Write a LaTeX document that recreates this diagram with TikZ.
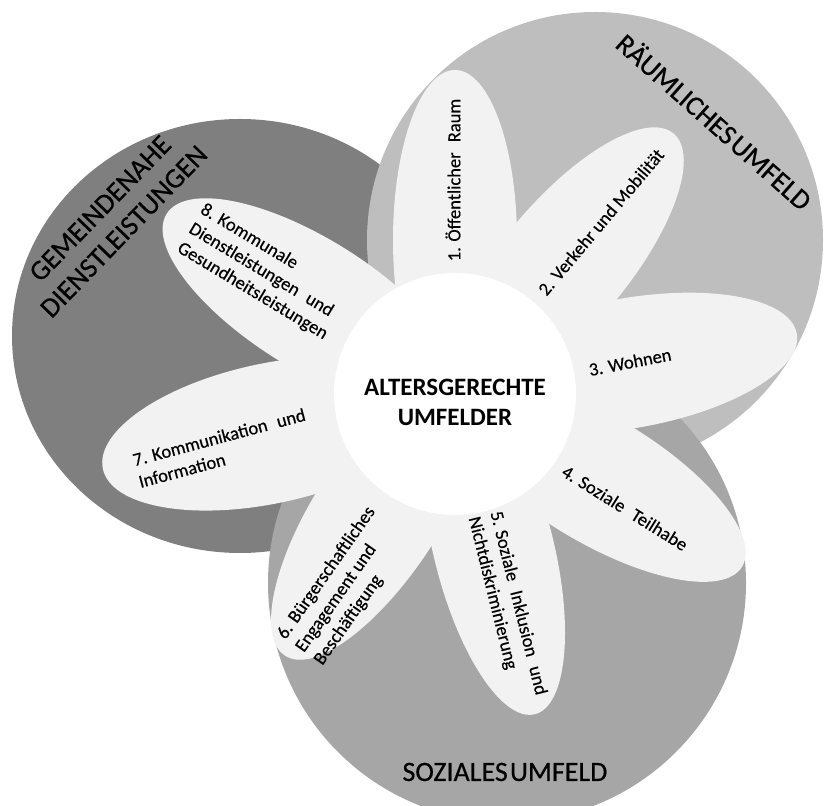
\documentclass[tikz,border=0pt]{standalone}
\usepackage{fontspec}
\setmainfont{Carlito}
\newfontfamily\lblfont{Carlito}[FakeBold=0.35]
\newfontfamily\bigfont{Carlito}[FakeBold=0.6]
\usetikzlibrary{calc}
\definecolor{cdark}{HTML}{7F7F7F}
\definecolor{clight}{HTML}{BEBEBE}
\definecolor{cmid}{HTML}{A6A6A6}
\definecolor{cpetal}{HTML}{F2F2F2}
\newcommand{\wsp}{\hspace{0.55em}}
\newcommand{\tsp}{\hspace{0.08em}}
\begin{document}
\begin{tikzpicture}[x=1pt,y=1pt,
  petal/.style={fill=cpetal},
  lbl/.style={font=\lblfont\fontsize{18.5}{22.5}\selectfont, text=black, align=left, inner sep=0pt},
  big/.style={font=\bigfont\fontsize{28}{33}\selectfont, text=black, align=center, inner sep=0pt}]
\useasboundingbox (0,0) rectangle (826,805);
\coordinate (C) at (455,411);
% big circles
\fill[cdark] (240,469) ellipse[x radius=228pt, y radius=217pt];
\fill[clight] (595,565) circle[radius=228pt];
\fill[cmid] (507,222) circle[radius=239pt];
% petals
\foreach \ang/\len/\wid in {90/324/62, 50/340/63, 10/347/65, -31/335/63, -76/330/60, -123/312/63, 192/360/70, 148/340/65}{
  \fill[petal, rotate around={\ang:(C)}] ($(C)+(\len-170,0)$) ellipse [x radius=170pt, y radius=\wid pt];
}
\fill[white] (C) circle[radius=121pt];
% texts
\node[font=\bfseries\fontsize{25}{30}\selectfont, align=center, inner sep=0pt] (ctr) at (455,403) {ALTERSGERECHTE\\UMFELDER};
\node[lbl, rotate=90] (t1) at (453,625) {1. Öffentlicher\wsp Raum};
\node[lbl, rotate=50] (t2) at (601,583) {2. Verkehr und Mobilität};
\node[lbl, rotate=11] (t3) at (630,443) {3. Wohnen};
\node[lbl, rotate=-32] (t4) at (625,297) {4. Soziale\wsp Teilhabe};
\node[lbl, rotate=-76] (t5) at (507,199) {5. Soziale\wsp Inklusion\wsp und\\Nichtdiskriminierung};
\node[lbl, rotate=55] (t6) at (345,219) {6. Bürgerschaftliches\\Engagement und\\Beschäftigung};
\node[lbl, rotate=15] (t7) at (222,357) {7. Kommunikation\wsp und\\Information};
\node[lbl, rotate=-31] (t8) at (264,533) {8. Kommunale\\Dienstleistungen\wsp und\\Gesundheitsleistungen};
\node[big, rotate=-41.5] (lr) at (715,684) {RÄUMLICHES\tsp UMFELD};
\node[big, rotate=46] (lg) at (112,585) {GEMEINDENAHE\\DIENSTLEISTUNGEN};
\node[big] (ls) at (505,33) {SOZIALES\tsp UMFELD};
\end{tikzpicture}
\end{document}
